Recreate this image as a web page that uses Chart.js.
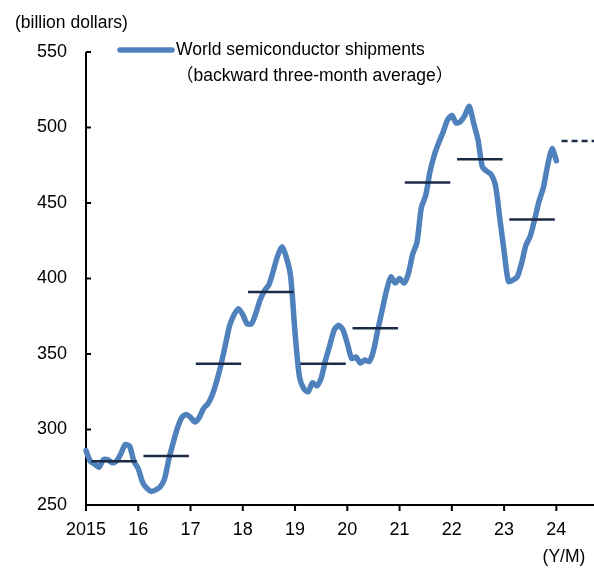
<!DOCTYPE html>
<html>
<head>
<meta charset="utf-8">
<script src="https://cdn.jsdelivr.net/npm/chart.js@4.4.1/dist/chart.umd.min.js"></script>
<style>
  html, body { margin: 0; padding: 0; background: #fff; }
  canvas { display: block; }
</style>
</head>
<body>
<canvas id="chart" width="594" height="568"></canvas>
<script>
// Monthly series starts January 2015; one value per month through January 2024.
const startYear = 2015;
const shipments = [
  286, 279, 277, 275, 280, 280, 278, 279, 284, 290, 289, 279,   // 2015
  274, 265, 261, 259, 260, 262, 267, 280, 291, 301, 308, 310,   // 2016
  308, 305, 308, 314, 317, 323, 332, 343, 356, 369, 376, 380,   // 2017
  376, 370, 370, 377, 386, 392, 396, 405, 415, 421, 414, 401,   // 2018
  364, 335, 327, 325, 331, 329, 334, 346, 356, 366, 369, 366,   // 2019
  357, 347, 348, 344, 346, 345, 352, 366, 379, 392, 401, 397,   // 2020
  400, 397, 403, 416, 424, 447, 455, 471, 482, 490, 497, 505,   // 2021
  508, 503, 504, 508, 514, 503, 492, 474, 471, 469, 462, 440,   // 2022
  418, 398, 399, 401, 410, 422, 428, 439, 451, 460, 475, 486,   // 2023
  478                                                           // 2024
];

// Calendar-year figures (horizontal bars) and the forecast for 2024.
const annualYears = [2015, 2016, 2017, 2018, 2019, 2020, 2021, 2022, 2023];
const annualValues = [279, 282.5, 343.5, 391, 343.5, 367, 463.5, 479, 439];
const forecastYear = 2024;
const forecastValue = 491;

// Axis ticks
const yearTicks = [2015, 2016, 2017, 2018, 2019, 2020, 2021, 2022, 2023, 2024];
const valueTicks = [250, 300, 350, 400, 450, 500, 550];

const legendLines = ['World semiconductor shipments', '\uFF08backward three-month average\uFF09'];
const unitLabel = '(billion dollars)';
const periodLabel = '(Y/M)';

const FONT = "'Liberation Sans', Arial, 'Noto Sans CJK JP', sans-serif";
const BLUE = '#4f81bd';
const NAVY = '#1b2a45';

const seriesPoints = shipments.map((v, i) => ({ x: startYear + i / 12, y: v }));

const datasets = [{
  label: legendLines.join(' '),
  data: seriesPoints,
  borderColor: BLUE,
  borderWidth: 5.5,
  borderJoinStyle: 'round',
  borderCapStyle: 'round',
  pointRadius: 0,
  tension: 0.25,
  clip: false,
  order: 2
}];

annualYears.forEach((yr, k) => {
  datasets.push({
    label: 'avg ' + yr,
    data: [{ x: yr + 0.1, y: annualValues[k] }, { x: yr + 0.97, y: annualValues[k] }],
    borderColor: NAVY,
    borderWidth: 2.5,
    pointRadius: 0,
    order: 1
  });
});

datasets.push({
  label: 'forecast ' + forecastYear,
  data: [{ x: forecastYear + 0.1, y: forecastValue }, { x: 2024.72, y: forecastValue }],
  borderColor: NAVY,
  borderWidth: 2.5,
  borderDash: [6, 4],
  pointRadius: 0,
  order: 1
});

// Axis lines, inward y ticks, outward x ticks, legend and free labels.
const framePlugin = {
  id: 'frame',
  beforeDatasetsDraw(chart) {
    const { ctx, chartArea, scales } = chart;
    const xs = scales.x, ys = scales.y;
    ctx.save();
    ctx.strokeStyle = '#000';
    ctx.lineWidth = 2;
    ctx.beginPath();
    ctx.moveTo(chartArea.left, ys.getPixelForValue(valueTicks[valueTicks.length - 1]));
    ctx.lineTo(chartArea.left, chartArea.bottom);
    ctx.lineTo(chartArea.right, chartArea.bottom);
    valueTicks.forEach(v => {
      const y = ys.getPixelForValue(v);
      ctx.moveTo(chartArea.left, y);
      ctx.lineTo(chartArea.left + 5, y);
    });
    yearTicks.forEach(v => {
      const x = xs.getPixelForValue(v);
      ctx.moveTo(x, chartArea.bottom);
      ctx.lineTo(x, chartArea.bottom + 6);
    });
    ctx.stroke();
    ctx.restore();
  },
  afterDraw(chart) {
    const { ctx } = chart;
    ctx.save();
    ctx.fillStyle = '#000';
    ctx.font = '17.5px ' + FONT;
    ctx.textBaseline = 'alphabetic';
    ctx.textAlign = 'left';
    ctx.fillText(unitLabel, 15, 28);
    ctx.fillText(legendLines[0], 176, 55);
    ctx.fillText(legendLines[1], 176, 81);
    ctx.textAlign = 'center';
    ctx.fillText(periodLabel, 564, 562);
    // legend line sample
    ctx.strokeStyle = BLUE;
    ctx.lineWidth = 5.5;
    ctx.lineCap = 'round';
    ctx.beginPath();
    ctx.moveTo(120, 50);
    ctx.lineTo(172, 50);
    ctx.stroke();
    ctx.restore();
  }
};

Chart.defaults.font.family = FONT;
Chart.defaults.font.size = 18;
Chart.defaults.color = '#000';

new Chart(document.getElementById('chart'), {
  type: 'line',
  data: { datasets },
  options: {
    responsive: false,
    animation: false,
    layout: { padding: { top: 52, right: 0, bottom: 0, left: 0 } },
    plugins: { legend: { display: false }, tooltip: { enabled: false } },
    scales: {
      x: {
        type: 'linear',
        min: 2015,
        max: 2024.72,
        afterBuildTicks: s => { s.ticks = yearTicks.map(v => ({ value: v })); },
        afterFit: s => { s.height = 63; },
        grid: { display: false, drawTicks: false },
        border: { display: false },
        ticks: {
          padding: 14,
          maxRotation: 0,
          autoSkip: false,
          callback: v => (v === 2015 ? '2015' : String(v % 100))
        }
      },
      y: {
        min: 250,
        max: 550,
        afterBuildTicks: s => { s.ticks = valueTicks.map(v => ({ value: v })); },
        afterFit: s => { s.width = 86; },
        grid: { display: false, drawTicks: false },
        border: { display: false },
        ticks: { padding: 19 }
      }
    }
  },
  plugins: [framePlugin]
});
</script>
</body>
</html>
